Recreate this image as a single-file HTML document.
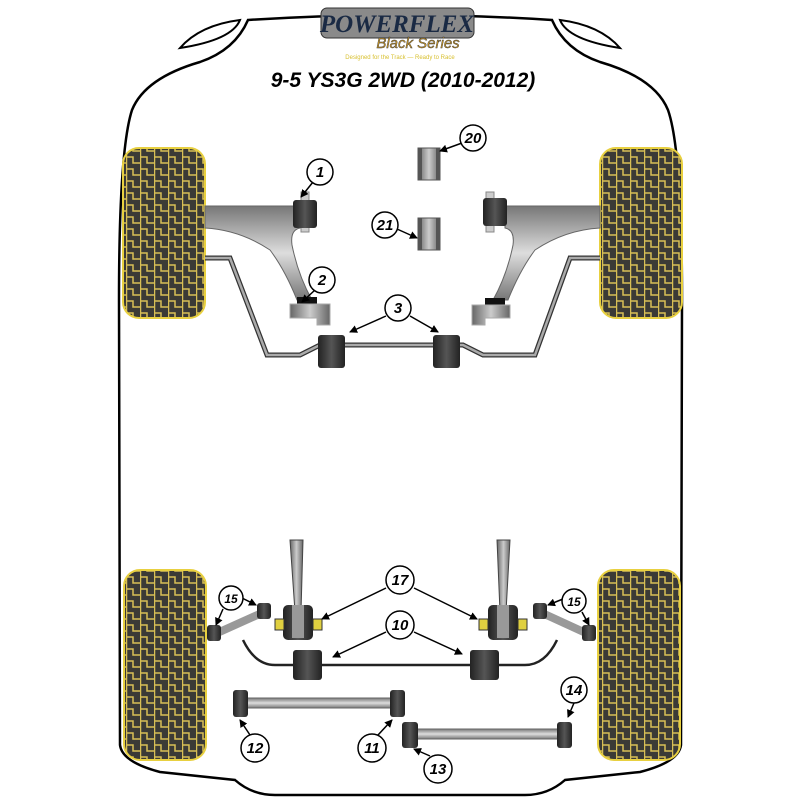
<!DOCTYPE html>
<html><head><meta charset="utf-8"><style>
html,body{margin:0;padding:0;background:#fff}
svg{display:block}
.n{font-family:"Liberation Sans",sans-serif;font-weight:bold;font-style:italic;font-size:15px;text-anchor:middle}
</style></head><body>
<svg width="800" height="800" viewBox="0 0 800 800" xmlns="http://www.w3.org/2000/svg">
<defs>
<pattern id="tp" width="14" height="12" patternUnits="userSpaceOnUse">
<rect width="14" height="12" fill="#3b3a36"/>
<path d="M0.5,0 V12 M0,1 H7 V7 H14" stroke="#d8bf55" stroke-width="1.5" fill="none"/>
</pattern>
<linearGradient id="gv" x1="0" y1="0" x2="0" y2="1"><stop offset="0" stop-color="#777"/><stop offset=".5" stop-color="#ddd"/><stop offset="1" stop-color="#777"/></linearGradient>
<linearGradient id="gh" x1="0" y1="0" x2="1" y2="0"><stop offset="0" stop-color="#666"/><stop offset=".5" stop-color="#ccc"/><stop offset="1" stop-color="#666"/></linearGradient>
<linearGradient id="bk" x1="0" y1="0" x2="1" y2="0"><stop offset="0" stop-color="#222"/><stop offset=".5" stop-color="#555"/><stop offset="1" stop-color="#222"/></linearGradient>
<marker id="ar" markerWidth="8" markerHeight="8" refX="7" refY="4" orient="auto" markerUnits="userSpaceOnUse"><path d="M0,0 L8,4 L0,8 Z" fill="#000"/></marker>
</defs>
<path d="M248,20 Q400,10 552,20 Q565,50 600,62 Q655,78 668,110 Q682,150 682,300 L681,745 Q679,762 640,772 L565,780 Q548,795 525,795 L275,795 Q252,795 235,780 L160,772 Q122,762 120,745 L119,300 Q119,150 132,110 Q145,78 200,62 Q235,50 248,20 Z" fill="#fff" stroke="#000" stroke-width="2.5"/>
<path d="M180,48 Q200,25 240,20 Q232,40 180,48 Z" fill="#fff" stroke="#000" stroke-width="2"/>
<path d="M620,48 Q600,25 560,20 Q568,40 620,48 Z" fill="#fff" stroke="#000" stroke-width="2"/>
<rect x="321" y="8" width="153" height="30" rx="6" fill="#8a8a8a" stroke="#333"/>
<text x="397" y="32" font-family="Liberation Serif,serif" font-weight="bold" font-style="italic" font-size="25" fill="#1a2a44" text-anchor="middle">POWERFLEX</text>
<text x="418" y="48" font-family="Liberation Sans,sans-serif" font-style="italic" font-size="15" fill="#c8962a" text-anchor="middle" stroke="#333" stroke-width=".4">Black Series</text>
<text x="400" y="59" font-family="Liberation Sans,sans-serif" font-size="6" fill="#d8c030" text-anchor="middle">Designed for the Track — Ready to Race</text>
<text x="403" y="87" font-family="Liberation Sans,sans-serif" font-weight="bold" font-style="italic" font-size="21" text-anchor="middle">9-5 YS3G 2WD (2010-2012)</text>
<rect x="123" y="148" width="82" height="170" rx="16" fill="url(#tp)" stroke="#e8d040" stroke-width="2"/>
<rect x="600" y="148" width="82" height="170" rx="16" fill="url(#tp)" stroke="#e8d040" stroke-width="2"/>
<rect x="124" y="570" width="82" height="190" rx="16" fill="url(#tp)" stroke="#e8d040" stroke-width="2"/>
<rect x="598" y="570" width="82" height="190" rx="16" fill="url(#tp)" stroke="#e8d040" stroke-width="2"/>
<path d="M205,258 H230 L267,355 H300 L320,345 H463 L483,355 H535 L570,258 H600" fill="none" stroke="#333" stroke-width="5"/>
<path d="M205,258 H230 L267,355 H300 L320,345 H463 L483,355 H535 L570,258 H600" fill="none" stroke="#aaa" stroke-width="2.5"/>
<path d="M205,206 H300 V228 Q290,230 292,245 Q298,275 312,300 L297,300 Q285,270 270,250 Q240,230 205,228 Z" fill="url(#gv)" stroke="#666"/>
<path d="M600,206 H505 V228 Q515,230 513,245 Q507,275 493,300 L508,300 Q520,270 535,250 Q565,230 600,228 Z" fill="url(#gv)" stroke="#666"/>
<rect x="301" y="192" width="8" height="40" fill="#ccc" stroke="#888"/>
<rect x="293" y="200" width="24" height="28" rx="3" fill="url(#bk)"/>
<rect x="486" y="192" width="8" height="40" fill="#ccc" stroke="#888"/>
<rect x="483" y="198" width="24" height="28" rx="3" fill="url(#bk)"/>
<rect x="297" y="297" width="20" height="9" fill="#111"/>
<path d="M290,304 H330 V325 H317 V318 H290 Z" fill="url(#gh)" stroke="#aaa"/>
<rect x="485" y="298" width="20" height="9" fill="#111"/>
<path d="M510,305 H472 V325 H485 V318 H510 Z" fill="url(#gh)" stroke="#aaa"/>
<rect x="318" y="335" width="27" height="33" rx="3" fill="url(#bk)"/>
<rect x="433" y="335" width="27" height="33" rx="3" fill="url(#bk)"/>
<rect x="418" y="148" width="22" height="32" fill="url(#gh)" stroke="#555"/><rect x="418" y="148" width="4" height="32" fill="#555"/><rect x="436" y="148" width="4" height="32" fill="#555"/>
<rect x="418" y="218" width="22" height="32" fill="url(#gh)" stroke="#555"/><rect x="418" y="218" width="4" height="32" fill="#555"/><rect x="436" y="218" width="4" height="32" fill="#555"/>
<path d="M290,540 H303 L301,612 H295 Z" fill="url(#gh)" stroke="#444"/>
<path d="M497,540 H510 L506,612 H500 Z" fill="url(#gh)" stroke="#444"/>
<rect x="283" y="605" width="30" height="35" rx="5" fill="url(#bk)"/><rect x="292" y="605" width="12" height="33" fill="#999"/>
<rect x="488" y="605" width="30" height="35" rx="5" fill="url(#bk)"/><rect x="497" y="605" width="12" height="33" fill="#999"/>
<rect x="275" y="619" width="9" height="11" fill="#e0d040" stroke="#333"/><rect x="313" y="619" width="9" height="11" fill="#e0d040" stroke="#333"/>
<rect x="479" y="619" width="9" height="11" fill="#e0d040" stroke="#333"/><rect x="518" y="619" width="9" height="11" fill="#e0d040" stroke="#333"/>
<path d="M243,640 Q255,665 275,665 H525 Q545,665 557,640" fill="none" stroke="#222" stroke-width="2.5"/>
<rect x="293" y="650" width="29" height="30" rx="3" fill="url(#bk)"/>
<rect x="470" y="650" width="29" height="30" rx="3" fill="url(#bk)"/>
<line x1="215" y1="634" x2="264" y2="612" stroke="#999" stroke-width="8"/>
<rect x="207" y="625" width="14" height="16" rx="3" fill="url(#bk)"/><rect x="257" y="603" width="14" height="16" rx="3" fill="url(#bk)"/>
<line x1="540" y1="612" x2="588" y2="634" stroke="#999" stroke-width="8"/>
<rect x="533" y="603" width="14" height="16" rx="3" fill="url(#bk)"/><rect x="582" y="625" width="14" height="16" rx="3" fill="url(#bk)"/>
<rect x="246" y="698" width="146" height="10" fill="url(#gv)" stroke="#666"/>
<rect x="233" y="690" width="15" height="27" rx="3" fill="url(#bk)"/><rect x="390" y="690" width="15" height="27" rx="3" fill="url(#bk)"/>
<rect x="416" y="729" width="143" height="10" fill="url(#gv)" stroke="#666"/>
<rect x="402" y="722" width="16" height="26" rx="3" fill="url(#bk)"/><rect x="557" y="722" width="15" height="26" rx="3" fill="url(#bk)"/>
<g stroke="#000" stroke-width="1.5" fill="none" marker-end="url(#ar)">
<line x1="313" y1="182" x2="301" y2="197"/>
<line x1="315" y1="290" x2="302" y2="302"/>
<line x1="386" y1="316" x2="350" y2="332"/>
<line x1="410" y1="316" x2="438" y2="332"/>
<line x1="462" y1="143" x2="440" y2="151"/>
<line x1="397" y1="229" x2="417" y2="238"/>
<line x1="386" y1="588" x2="322" y2="619"/>
<line x1="414" y1="588" x2="477" y2="619"/>
<line x1="386" y1="632" x2="333" y2="657"/>
<line x1="414" y1="632" x2="462" y2="654"/>
<line x1="223" y1="609" x2="216" y2="625"/>
<line x1="240" y1="597" x2="256" y2="605"/>
<line x1="563" y1="599" x2="548" y2="605"/>
<line x1="582" y1="612" x2="589" y2="625"/>
<line x1="574" y1="703" x2="568" y2="717"/>
<line x1="250" y1="735" x2="240" y2="720"/>
<line x1="378" y1="735" x2="392" y2="720"/>
<line x1="430" y1="756" x2="414" y2="749"/>
</g>
<g fill="#fff" stroke="#000" stroke-width="1.5">
<circle cx="320" cy="172" r="13"/><circle cx="322" cy="280" r="13"/><circle cx="398" cy="308" r="13"/>
<circle cx="473" cy="138" r="13"/><circle cx="385" cy="225" r="13"/>
<circle cx="400" cy="580" r="14"/><circle cx="400" cy="625" r="14"/>
<circle cx="231" cy="598" r="12"/><circle cx="574" cy="601" r="12"/>
<circle cx="574" cy="690" r="13"/><circle cx="255" cy="748" r="14"/><circle cx="372" cy="748" r="14"/><circle cx="438" cy="769" r="14"/>
</g>
<text class="n" x="320" y="177">1</text><text class="n" x="322" y="285">2</text><text class="n" x="398" y="313">3</text>
<text class="n" x="473" y="143">20</text><text class="n" x="385" y="230">21</text>
<text class="n" x="400" y="585">17</text><text class="n" x="400" y="630">10</text>
<text class="n" x="231" y="603" style="font-size:12px">15</text><text class="n" x="574" y="606" style="font-size:12px">15</text>
<text class="n" x="574" y="695">14</text><text class="n" x="255" y="753">12</text><text class="n" x="372" y="753">11</text><text class="n" x="438" y="774">13</text>
</svg>
</body></html>
